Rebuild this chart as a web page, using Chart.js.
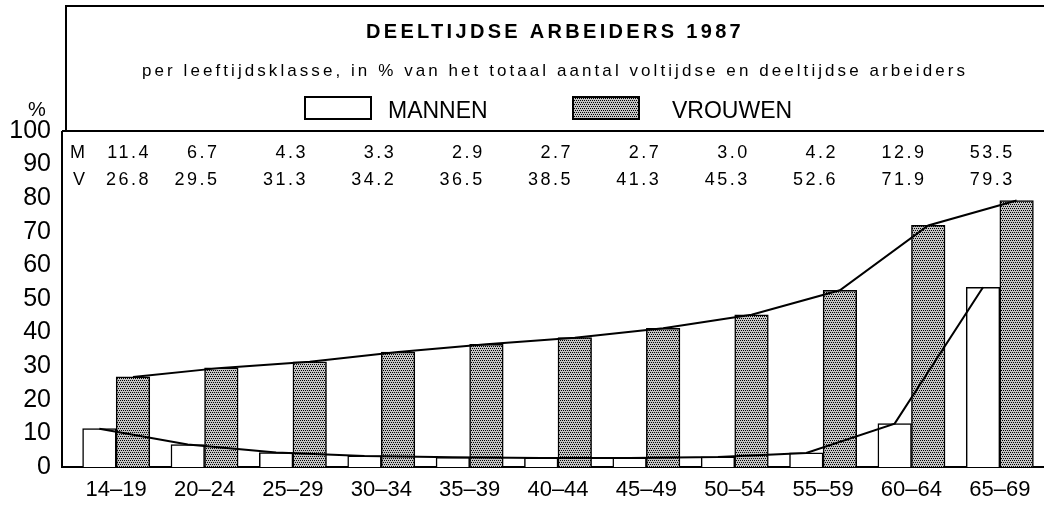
<!DOCTYPE html>
<html>
<head>
<meta charset="utf-8">
<title>Deeltijdse arbeiders 1987</title>
<script src="https://cdn.jsdelivr.net/npm/chart.js@4.4.1/dist/chart.umd.min.js"></script>
<style>
  html, body { margin: 0; padding: 0; background: #fff; }
  #wrap { width: 1044px; height: 506px; position: relative; }
</style>
</head>
<body>
<div id="wrap"><canvas id="grafiek"></canvas></div>
<script>
/*------------------------
   GEGEVENS
-------------------------*/
var leeftijden = ['14–19', '20–24', '25–29', '30–34', '35–39', '40–44', '45–49', '50–54', '55–59', '60–64', '65–69'];
var mannen = [11.4, 6.7, 4.3, 3.3, 2.9, 2.7, 2.7, 3.0, 4.2, 12.9, 53.5];
var vrouwen = [26.8, 29.5, 31.3, 34.2, 36.5, 38.5, 41.3, 45.3, 52.6, 71.9, 79.3];
var yTicks = [0, 10, 20, 30, 40, 50, 60, 70, 80, 90, 100];

var titel = 'DEELTIJDSE ARBEIDERS 1987';
var ondertitel = 'per leeftijdsklasse, in % van het totaal aantal voltijdse en deeltijdse arbeiders';

var FONT = '"Liberation Sans", Arial, Helvetica, sans-serif';
var halfBar = 0.19; // bar centre offset from the age class centre, in class units

/*------------------------
   RASTER VOOR VROUWEN
-------------------------*/
var raster = document.createElement('canvas');
raster.width = 4;
raster.height = 4;
var rc = raster.getContext('2d');
rc.fillStyle = '#c4c4c4';
rc.fillRect(0, 0, 4, 4);
rc.fillStyle = '#000';
[[0, 0], [2, 0], [1, 2], [3, 2]].forEach(function(p) { rc.fillRect(p[0], p[1], 1, 1); });
var vrouwenVulling = rc.createPattern(raster, 'repeat');

function punten(reeks, verschuiving) {
    return reeks.map(function(v, i) { return { x: i + verschuiving, y: v }; });
}

/*------------------------
   KADER, TITEL, LEGENDE
-------------------------*/
function schrijf(ctx, s, x, y, font, align, spatie) {
    ctx.font = font;
    ctx.letterSpacing = spatie + 'px';
    ctx.textAlign = align;
    ctx.fillText(s, x, y);
}

// letter spacing so the text fills a given width
function spatieVoor(ctx, s, font, breedte) {
    ctx.font = font;
    ctx.letterSpacing = '0px';
    return (breedte - ctx.measureText(s).width) / s.length;
}

var kopPlugin = {
    id: 'kop',
    beforeDatasetsDraw: function(chart) {
        var ctx = chart.ctx, a = chart.chartArea;
        var asX = a.left - 10;
        ctx.save();
        ctx.strokeStyle = '#000';
        ctx.lineWidth = 2;
        ctx.beginPath();
        // header box
        ctx.moveTo(asX + 4, a.top);
        ctx.lineTo(asX + 4, 6);
        ctx.lineTo(a.right, 6);
        // top of plot
        ctx.moveTo(asX, a.top);
        ctx.lineTo(a.right, a.top);
        // y axis and baseline
        ctx.moveTo(asX, a.top);
        ctx.lineTo(asX, a.bottom);
        ctx.lineTo(a.right, a.bottom);
        ctx.stroke();
        ctx.restore();
    },
    afterDraw: function(chart) {
        var ctx = chart.ctx, a = chart.chartArea, x = chart.scales.x;
        var midden = 555;
        ctx.save();
        ctx.fillStyle = '#000';
        ctx.textBaseline = 'alphabetic';

        var f1 = 'bold 20px ' + FONT;
        schrijf(ctx, titel, midden, 38, f1, 'center', spatieVoor(ctx, titel, f1, 378));
        var f2 = '17px ' + FONT;
        schrijf(ctx, ondertitel, midden, 76, f2, 'center', spatieVoor(ctx, ondertitel, f2, 826));

        // legend
        var sets = chart.data.datasets;
        var items = [{ ds: sets[0], box: 305, tekst: 388 }, { ds: sets[1], box: 573, tekst: 672 }];
        items.forEach(function(it) {
            ctx.fillStyle = it.ds.backgroundColor;
            ctx.fillRect(it.box, 97, 66, 22);
            ctx.strokeStyle = '#000';
            ctx.lineWidth = 2;
            ctx.strokeRect(it.box, 97, 66, 22);
            ctx.fillStyle = '#000';
            schrijf(ctx, it.ds.label, it.tekst, 118, '23px ' + FONT, 'left', 0);
        });

        // % label
        schrijf(ctx, '%', 37, 116, '20px ' + FONT, 'center', 0);

        // value rows (keep the first column clear of the M / V labels)
        var f3 = '18px ' + FONT;
        schrijf(ctx, 'M', a.left - 2, 158, f3, 'left', 0);
        schrijf(ctx, 'V', a.left + 1, 185, f3, 'left', 0);
        leeftijden.forEach(function(l, i) {
            var px = Math.max(x.getPixelForValue(i) + 15, a.left + 79);
            schrijf(ctx, mannen[i].toFixed(1), px, 158, f3, 'right', 2.5);
            schrijf(ctx, vrouwen[i].toFixed(1), px, 185, f3, 'right', 2.5);
        });
        ctx.restore();
    }
};

/*------------------------
   GRAFIEK
-------------------------*/
var config = {
    type: 'bar',
    data: {
        datasets: [{
            label: 'MANNEN',
            data: punten(mannen, -halfBar),
            backgroundColor: '#ffffff',
            borderColor: '#000',
            borderWidth: 1.5,
            order: 2
        }, {
            label: 'VROUWEN',
            data: punten(vrouwen, halfBar),
            backgroundColor: vrouwenVulling,
            borderColor: '#000',
            borderWidth: 1.5,
            order: 2
        }, {
            type: 'line',
            label: 'lijn mannen',
            data: punten(mannen, -halfBar),
            borderColor: '#000',
            borderWidth: 2,
            pointRadius: 0,
            tension: 0,
            order: 1
        }, {
            type: 'line',
            label: 'lijn vrouwen',
            data: punten(vrouwen, halfBar),
            borderColor: '#000',
            borderWidth: 2,
            pointRadius: 0,
            tension: 0,
            order: 1
        }]
    },
    options: {
        responsive: true,
        maintainAspectRatio: false,
        animation: false,
        datasets: {
            bar: { grouped: false, categoryPercentage: 1.0, barPercentage: 1.0 }
        },
        layout: { padding: { top: 131, left: 0, right: 0, bottom: 0 } },
        plugins: {
            legend: { display: false },
            title: { display: false },
            tooltip: { enabled: false }
        },
        scales: {
            x: {
                type: 'linear',
                offset: false,
                min: -0.5,
                max: leeftijden.length - 0.5,
                grid: { display: false, drawTicks: false, offset: false },
                border: { display: false },
                afterBuildTicks: function(s) {
                    s.ticks = leeftijden.map(function(l, i) { return { value: i }; });
                },
                ticks: {
                    color: '#000',
                    font: { family: FONT, size: 22 },
                    padding: 10,
                    maxRotation: 0,
                    autoSkip: false,
                    callback: function(v) { return leeftijden[v]; }
                },
                afterFit: function(s) { s.height = 39; }
            },
            y: {
                min: 0,
                max: 100,
                grid: { display: false, drawTicks: false },
                border: { display: false },
                afterBuildTicks: function(s) {
                    s.ticks = yTicks.map(function(v) { return { value: v }; });
                },
                ticks: {
                    color: '#000',
                    font: { family: FONT, size: 25 },
                    padding: 21
                },
                afterFit: function(s) { s.width = 72; }
            }
        }
    },
    plugins: [kopPlugin]
};

window.onload = function() {
    var ctx = document.getElementById('grafiek').getContext('2d');
    window.grafiek = new Chart(ctx, config);
};
</script>
</body>
</html>
